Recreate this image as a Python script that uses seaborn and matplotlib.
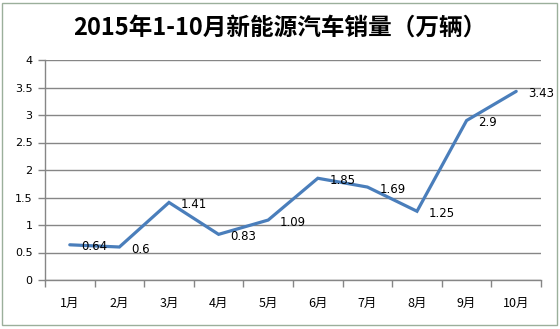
import matplotlib
matplotlib.use("Agg")
import matplotlib.pyplot as plt
import seaborn as sns
import pandas as pd
from matplotlib.patches import Rectangle
from matplotlib.ticker import FixedLocator, NullFormatter

months = ["1月", "2月", "3月", "4月", "5月", "6月", "7月", "8月", "9月", "10月"]
sales = [0.64, 0.6, 1.41, 0.83, 1.09, 1.85, 1.69, 1.25, 2.9, 3.43]
label_texts = ["0.64", "0.6", "1.41", "0.83", "1.09", "1.85", "1.69", "1.25", "2.9", "3.43"]
yticks = [0, 0.5, 1, 1.5, 2, 2.5, 3, 3.5, 4]
ytick_labels = ["0", "0.5", "1", "1.5", "2", "2.5", "3", "3.5", "4"]
title = "2015年1-10月新能源汽车销量（万辆）"

sns.set_theme(style="white")
plt.rcParams['font.family'] = ['Noto Sans CJK SC', 'DejaVu Sans']

df = pd.DataFrame({"month": months, "sales": sales, "pos": range(len(months))})

fig = plt.figure(figsize=(5.6, 3.29), dpi=100)
ax = fig.add_axes([45/560, 1-280/329, (541-45)/560, (280-60)/329])

sns.lineplot(data=df, x="pos", y="sales", ax=ax, color="#4A7EBB", linewidth=2.3,
             sort=False, solid_joinstyle="miter")

for i, (v, t) in enumerate(zip(sales, label_texts)):
    ax.annotate(t, (i, v), xytext=(8.5, -1.5), textcoords="offset points",
                ha="left", va="center", fontsize=8.5, color="#000000",
                family=['DejaVu Sans'])

ax.set_xlim(-0.5, len(months) - 0.5)
ax.set_ylim(0, 4)
ax.set_yticks(yticks)
ax.set_yticklabels(ytick_labels, fontsize=8, color="#000000",
                   family=['DejaVu Sans'])
ax.set_xticks(list(range(len(months))))
ax.set_xticklabels(months, fontsize=9, color="#000000")
ax.xaxis.set_minor_locator(FixedLocator([i - 0.5 for i in range(len(months) + 1)]))
ax.xaxis.set_minor_formatter(NullFormatter())
ax.tick_params(axis="x", which="major", length=0, pad=12)
ax.tick_params(axis="x", which="minor", length=5, width=1, color="#868686", direction="out", bottom=True)
ax.tick_params(axis="y", which="major", length=5, width=1, color="#868686", direction="out", left=True, pad=4)
ax.set_xlabel("")
ax.set_ylabel("")

ax.grid(axis="y", color="#868686", linewidth=1)
ax.set_axisbelow(True)
for s in ["top", "right"]:
    ax.spines[s].set_visible(False)
for s in ["left", "bottom"]:
    ax.spines[s].set_color("#868686")
    ax.spines[s].set_linewidth(1)

fig.text(0.5, 1 - 28/329, title, ha="center", va="center", fontsize=17,
         fontweight="bold", color="#000000")

fig.patches.append(Rectangle((2/560, 4/329), 555/560, 322/329, transform=fig.transFigure,
                             fill=False, edgecolor="#9BAF9B", linewidth=1))

fig.savefig("out.png", dpi=100)
